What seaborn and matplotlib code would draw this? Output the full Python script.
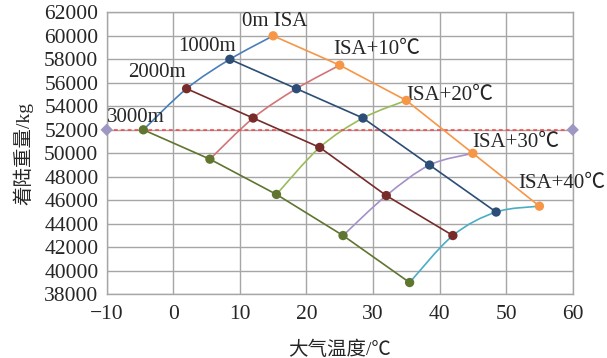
import numpy as np
import pandas as pd
import matplotlib
matplotlib.use("Agg")
import matplotlib.pyplot as plt
from matplotlib.path import Path
from matplotlib.patches import PathPatch
import seaborn as sns

# altitude lines (each point = ISA, ISA+10 ... ISA+40)
altitudes = ['0m', '1000m', '2000m', '3000m']
temp_0m = [15, 25, 35, 45, 55]
temp_1000m = [8.5, 18.5, 28.5, 38.5, 48.5]
temp_2000m = [2, 12, 22, 32, 42]
temp_3000m = [-4.5, 5.5, 15.5, 25.5, 35.5]
wt_0m = [60000, 57500, 54500, 50000, 45500]
wt_1000m = [58000, 55500, 53000, 49000, 45000]
wt_2000m = [55500, 53000, 50500, 46400, 43000]
wt_3000m = [52000, 49500, 46500, 43000, 39000]
isa_dev = ['ISA', 'ISA+10℃', 'ISA+20℃', 'ISA+30℃', 'ISA+40℃']
ref_weight = 52000
ref_temps = [-10, 60]

alt_colors = ['#F79646', '#2C4D75', '#772C2A', '#5F7530']
isa_colors = ['#4A7EBB', '#D27577', '#9BBB59', '#A491C9', '#4BACC6']

temps = [temp_0m, temp_1000m, temp_2000m, temp_3000m]
wts = [wt_0m, wt_1000m, wt_2000m, wt_3000m]
rows = []
for a, t, w in zip(altitudes, temps, wts):
    for d, ti, wi in zip(isa_dev, t, w):
        rows.append({'alt': a, 'isa': d, 'temp': ti, 'weight': wi})
df = pd.DataFrame(rows)

sns.set_style("white")
plt.rcParams['font.family'] = ['Liberation Serif', 'Noto Sans CJK SC']
plt.rcParams['axes.unicode_minus'] = True

fig = plt.figure(figsize=(6.07, 3.58), dpi=100)
ax = fig.add_axes([0.1758, 0.178, 0.7677, 0.7876])


def smooth_path(x, y):
    # excel-like smoothed line: catmull-rom segments as cubic beziers
    p = np.column_stack([x, y]).astype(float)
    pts = np.vstack([p[0], p, p[-1]])
    verts = [p[0]]
    codes = [Path.MOVETO]
    for i in range(1, len(pts) - 2):
        c1 = pts[i] + (pts[i + 1] - pts[i - 1]) / 6
        c2 = pts[i + 1] - (pts[i + 2] - pts[i]) / 6
        verts += [c1, c2, pts[i + 1]]
        codes += [Path.CURVE4] * 3
    return Path(verts, codes)


# ISA deviation curves (connect same deviation across altitudes)
for d, c in zip(isa_dev, isa_colors):
    sub = df[df['isa'] == d]
    ax.add_patch(PathPatch(smooth_path(sub['temp'], sub['weight']),
                           fill=False, edgecolor=c, lw=1.2, zorder=2))

# reference line
ref = pd.DataFrame({'temp': ref_temps, 'weight': [ref_weight] * 2})
sns.lineplot(data=ref, x='temp', y='weight', ax=ax, color='#FF4040',
             linestyle=(0, (2.5, 2)), lw=1.1, zorder=3)
sns.scatterplot(data=ref, x='temp', y='weight', ax=ax, marker='D', s=40,
                color='#9E97C2', edgecolor='none', zorder=5, clip_on=False)

sns.lineplot(data=df, x='temp', y='weight', hue='alt', palette=alt_colors,
             sort=False, estimator=None, lw=1.2, ax=ax, legend=False, zorder=3)
sns.scatterplot(data=df, x='temp', y='weight', hue='alt', palette=alt_colors,
                s=45, edgecolor='none', ax=ax, legend=False, zorder=4)

ax.set_xlim(-10, 60)
ax.set_ylim(38000, 62000)
ax.set_xticks(range(-10, 61, 10))
ax.set_yticks(range(38000, 62001, 2000))
ax.grid(True, color='#A6A6A6', lw=1.0)
ax.set_axisbelow(True)
for s in ax.spines.values():
    s.set_color('#A6A6A6')
    s.set_linewidth(1.0)
ax.tick_params(length=0, labelsize=15.5, pad=6)
ax.tick_params(axis='x', pad=8)
ax.set_xlabel('大气温度/℃', fontsize=14, labelpad=12)
ax.set_ylabel('着陆重量/kg', fontsize=14, labelpad=8)

fs = 15
ax.text(10.3, 61200, '0m ISA', fontsize=fs, va='center')
ax.text(0.7, 59050, '1000m', fontsize=fs, va='center')
ax.text(-6.8, 56900, '2000m', fontsize=fs, va='center')
ax.text(-10, 53080, '3000m', fontsize=fs, va='center')
ax.text(24, 58870, 'ISA+10℃', fontsize=fs, va='center')
ax.text(35, 54960, 'ISA+20℃', fontsize=fs, va='center')
ax.text(44.9, 50960, 'ISA+30℃', fontsize=fs, va='center')
ax.text(51.8, 47470, 'ISA+40℃', fontsize=fs, va='center')

fig.savefig('out.png', dpi=100)
